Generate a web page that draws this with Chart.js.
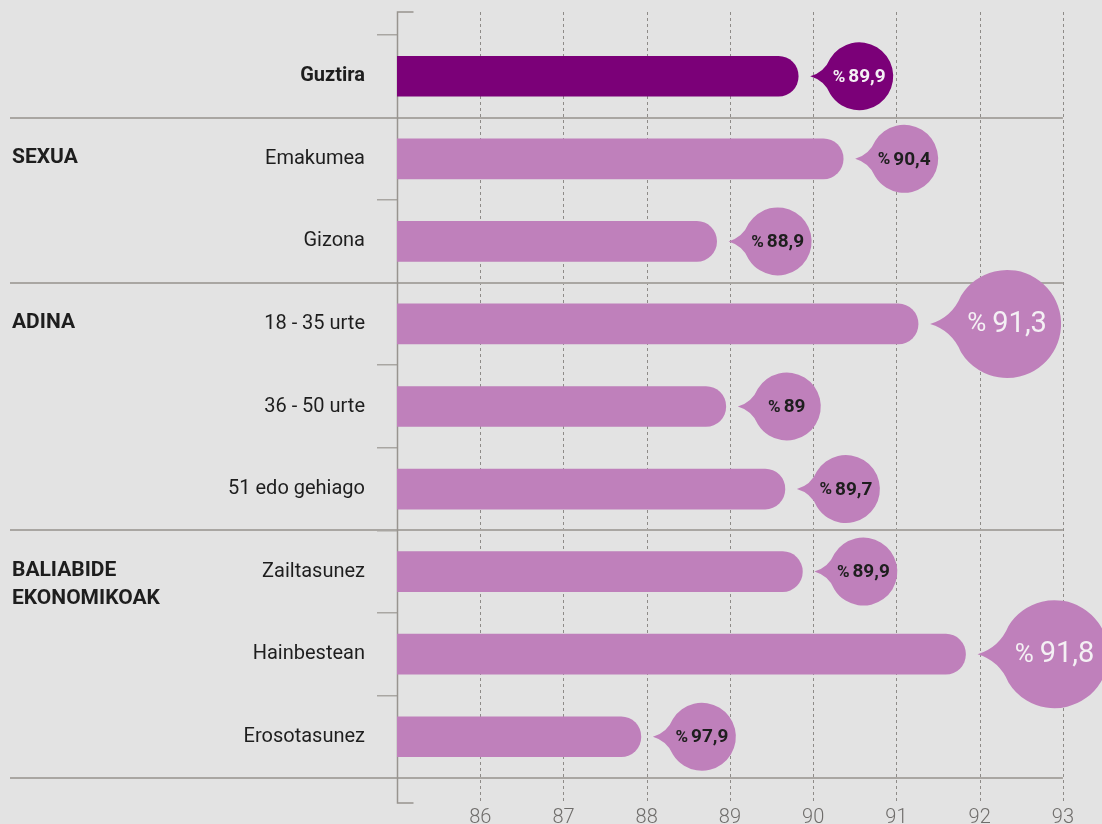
<!DOCTYPE html>
<html>
<head>
<meta charset="utf-8">
<script src="https://cdn.jsdelivr.net/npm/chart.js@4.4.1/dist/chart.umd.min.js"></script>
<style>
  html, body { margin: 0; padding: 0; background: #e3e3e3; }
  canvas { display: block; }
</style>
</head>
<body>
<canvas id="chart" width="1102" height="824"></canvas>
<script>
// Data
const categories = ['Guztira', 'Emakumea', 'Gizona', '18 - 35 urte', '36 - 50 urte', '51 edo gehiago', 'Zailtasunez', 'Hainbestean', 'Erosotasunez'];
const barValues = [89.82, 90.36, 88.84, 91.26, 88.95, 89.66, 89.87, 91.83, 87.93];
const valueLabels = ['89,9', '90,4', '88,9', '91,3', '89', '89,7', '89,9', '91,8', '97,9'];
const groupTitles = [['SEXUA'], ['ADINA'], ['BALIABIDE', 'EKONOMIKOAK']];
const groupStarts = [1, 3, 6];
const separatorsAfter = [0, 2, 5, 8];
const xMin = 85;
const xMax = 93;

const FONT = 'Roboto, "Noto Sans", sans-serif';
const DARK = '#7b0078';
const LIGHT = '#bf80bb';
const TEXT = '#1e1e1e';
const LINE = '#a9a6a2';

function bubblePath(ctx, cx, cy, r, tail) {
    const a = 0.55;
    const tipX = cx - r - tail;
    const jx = cx - r * Math.cos(a);
    const jy = r * Math.sin(a);
    ctx.beginPath();
    ctx.moveTo(tipX, cy);
    ctx.quadraticCurveTo(cx - r - tail * 0.05, cy - r * 0.12, jx, cy - jy);
    ctx.arc(cx, cy, r, Math.PI + a, 3 * Math.PI - a, false);
    ctx.quadraticCurveTo(cx - r - tail * 0.05, cy + r * 0.12, tipX, cy);
    ctx.closePath();
}

const decorPlugin = {
    id: 'decor',
    beforeDatasetsDraw(chart) {
        const { ctx, chartArea, scales: { x, y } } = chart;
        ctx.save();

        // dashed vertical grid lines
        ctx.strokeStyle = '#8e8b88';
        ctx.lineWidth = 1;
        ctx.setLineDash([3, 3]);
        x.ticks.forEach(t => {
            if (t.value === xMin) return;
            const px = Math.round(x.getPixelForValue(t.value)) + 0.5;
            ctx.beginPath();
            ctx.moveTo(px, 12);
            ctx.lineTo(px, 804);
            ctx.stroke();
        });
        ctx.setLineDash([]);

        // group separators
        const step = y.getPixelForValue(1) - y.getPixelForValue(0);
        ctx.strokeStyle = LINE;
        ctx.lineWidth = 2;
        separatorsAfter.forEach(i => {
            const py = Math.round(y.getPixelForValue(i) + step / 2);
            ctx.beginPath();
            ctx.moveTo(10, py);
            ctx.lineTo(chartArea.right, py);
            ctx.stroke();
        });

        // axis line with small caps
        const ax = chartArea.left + 0.5;
        ctx.strokeStyle = '#98948f';
        ctx.lineWidth = 1.5;
        ctx.beginPath();
        ctx.moveTo(ax + 16, 12);
        ctx.lineTo(ax, 12);
        ctx.lineTo(ax, 803);
        ctx.lineTo(ax + 16, 803);
        ctx.stroke();

        // group titles
        ctx.fillStyle = TEXT;
        ctx.font = 'bold 21px ' + FONT;
        ctx.textAlign = 'left';
        ctx.textBaseline = 'middle';
        groupTitles.forEach((lines, g) => {
            const py = y.getPixelForValue(groupStarts[g]);
            lines.forEach((line, k) => ctx.fillText(line, 12, py - 1 + k * 28));
        });
        ctx.restore();
    },
    afterDatasetsDraw(chart) {
        const { ctx } = chart;
        const meta = chart.getDatasetMeta(0);
        ctx.save();
        meta.data.forEach((bar, i) => {
            const big = barValues[i] > 91;
            const r = big ? 54 : 34;
            const tail = big ? 23 : 15;
            const cx = bar.x + 12 + tail + r;
            const cy = bar.y;
            ctx.fillStyle = i === 0 ? DARK : LIGHT;
            bubblePath(ctx, cx, cy, r, tail);
            ctx.fill();

            const numFont = big ? '29px ' + FONT : 'bold 19px ' + FONT;
            const pctFont = big ? '26px ' + FONT : 'bold 17px ' + FONT;
            const gap = big ? 6 : 3;
            ctx.font = pctFont;
            const wp = ctx.measureText('%').width;
            ctx.font = numFont;
            const wn = ctx.measureText(valueLabels[i]).width;
            const x0 = cx - (wp + gap + wn) / 2;
            ctx.fillStyle = (i === 0 || big) ? '#f4f0f4' : TEXT;
            ctx.textAlign = 'left';
            ctx.textBaseline = 'middle';
            ctx.font = pctFont;
            ctx.fillText('%', x0, cy + 1);
            ctx.font = numFont;
            ctx.fillText(valueLabels[i], x0 + wp + gap, cy + 1);
        });
        ctx.restore();
    }
};

new Chart(document.getElementById('chart'), {
    type: 'bar',
    data: {
        labels: categories,
        datasets: [{
            data: barValues,
            base: xMin,
            backgroundColor: barValues.map((v, i) => i === 0 ? DARK : LIGHT),
            borderRadius: 20,
            borderSkipped: 'start',
            barThickness: 40
        }]
    },
    options: {
        indexAxis: 'y',
        responsive: false,
        animation: false,
        layout: { padding: { top: 35, right: 39, left: 0, bottom: 0 } },
        plugins: { legend: { display: false }, tooltip: { enabled: false } },
        scales: {
            x: {
                type: 'linear',
                min: xMin,
                max: xMax,
                afterFit: s => { s.height = 46; },
                grid: { display: false, drawTicks: false },
                border: { display: false },
                ticks: {
                    stepSize: 1,
                    padding: 28,
                    color: '#6f6d6b',
                    font: { family: FONT, size: 20, weight: '300' },
                    callback: v => v === xMin ? '' : v
                }
            },
            y: {
                type: 'category',
                afterFit: s => { s.width = 397; },
                border: { display: false },
                grid: {
                    offset: true,
                    drawOnChartArea: false,
                    drawTicks: true,
                    tickLength: 20,
                    color: LINE,
                    lineWidth: 1.5
                },
                ticks: {
                    padding: 12,
                    color: TEXT,
                    font: c => ({ family: FONT, size: 20, weight: c.index === 0 ? 'bold' : 'normal' })
                }
            }
        }
    },
    plugins: [decorPlugin]
});
</script>
</body>
</html>
